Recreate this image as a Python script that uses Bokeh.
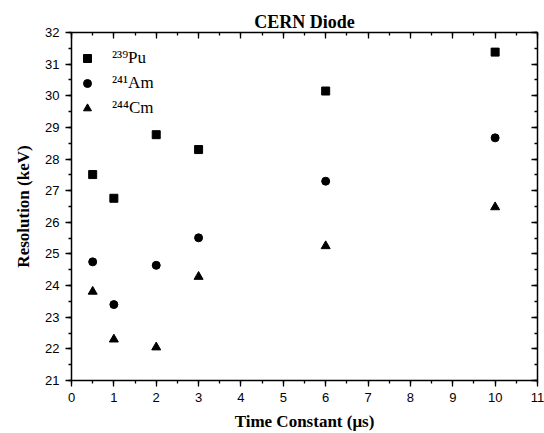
from bokeh.plotting import figure
from bokeh.models import (LinearAxis, Range1d, SingleIntervalTicker, Legend, LegendItem, Title,
                          CustomJSTickFormatter)
from bokeh.embed import file_html
from bokeh.resources import INLINE

# data
time_constant = [0.5, 1, 2, 3, 6, 10]
pu239 = [27.51, 26.76, 28.77, 28.30, 30.15, 31.38]
am241 = [24.75, 23.40, 24.64, 25.51, 27.30, 28.67]
cm244 = [23.81, 22.30, 22.05, 24.28, 25.25, 26.48]
series_labels = ["\u00b2\u00b3\u2079Pu", "\u00b2\u2074\u00b9Am", "\u00b2\u2074\u2074Cm"]
title_text = "CERN Diode"
x_label = "Time Constant (\u03bcs)"
y_label = "Resolution (keV)"

p = figure(width=544, height=433, output_backend="svg", toolbar_location=None,
           x_range=Range1d(0, 11), y_range=Range1d(21, 32),
           min_border_left=71, min_border_right=7, min_border_top=32, min_border_bottom=51,
           x_axis_location=None, y_axis_location=None)
p.grid.visible = False
p.outline_line_color = None
p.background_fill_color = "white"
p.border_fill_color = "white"

SANS = "Liberation Sans"
SERIF = "Liberation Serif"

def style(ax, labels=True, inward=False):
    ax.axis_line_color = "black"
    ax.axis_line_width = 1.5
    ax.major_tick_line_color = "black"
    ax.major_tick_line_width = 1.3
    ax.minor_tick_line_color = "black"
    ax.minor_tick_line_width = 1.3
    if inward:
        ax.major_tick_in = 6
        ax.major_tick_out = 0
        ax.minor_tick_in = 3
        ax.minor_tick_out = 0
    else:
        ax.major_tick_in = 0
        ax.major_tick_out = 6
        ax.minor_tick_in = 0
        ax.minor_tick_out = 3
    if labels:
        ax.major_label_text_font = SANS
        ax.major_label_text_font_size = "13px"
        ax.major_label_text_color = "black"
        ax.major_label_standoff = 6
        ax.axis_label_text_font = SERIF
        ax.axis_label_text_font_style = "bold"
        ax.axis_label_text_font_size = "17px"
        ax.axis_label_text_color = "black"
    else:
        ax.formatter = CustomJSTickFormatter(code="return ''")
        ax.major_label_standoff = 0

xt = SingleIntervalTicker(interval=1, num_minor_ticks=2)
yt = SingleIntervalTicker(interval=1, num_minor_ticks=2)

bottom = LinearAxis(ticker=xt, axis_label=x_label)
style(bottom)
bottom.axis_label_standoff = 7
left = LinearAxis(ticker=yt, axis_label=y_label)
style(left)
left.axis_label_standoff = 9
top = LinearAxis(ticker=SingleIntervalTicker(interval=1, num_minor_ticks=2))
style(top, labels=False, inward=True)
right = LinearAxis(ticker=SingleIntervalTicker(interval=1, num_minor_ticks=2))
style(right, labels=False, inward=True)

p.add_layout(bottom, "below")
p.add_layout(left, "left")
p.add_layout(top, "above")
p.add_layout(right, "right")

t = Title(text=title_text, align="center", text_font=SERIF, text_font_style="bold",
          text_font_size="18px", text_color="black", standoff=2, offset=0)
p.add_layout(t, "above")

r1 = p.scatter(time_constant, pu239, marker="square", size=8, color="black")
r2 = p.scatter(time_constant, am241, marker="circle", size=8, color="black")
r3 = p.scatter(time_constant, cm244, marker="triangle", size=9, color="black")

legend = Legend(items=[LegendItem(label=series_labels[0], renderers=[r1]),
                       LegendItem(label=series_labels[1], renderers=[r2]),
                       LegendItem(label=series_labels[2], renderers=[r3])],
                location=(6, 262), margin=0, padding=0, spacing=5,
                glyph_width=20, glyph_height=20, label_height=20,
                label_standoff=15, border_line_color=None, background_fill_alpha=0,
                label_text_font=SERIF, label_text_font_size="17px", label_text_color="black")
p.add_layout(legend, "center")

open("out.html", "w").write(file_html(p, INLINE))
